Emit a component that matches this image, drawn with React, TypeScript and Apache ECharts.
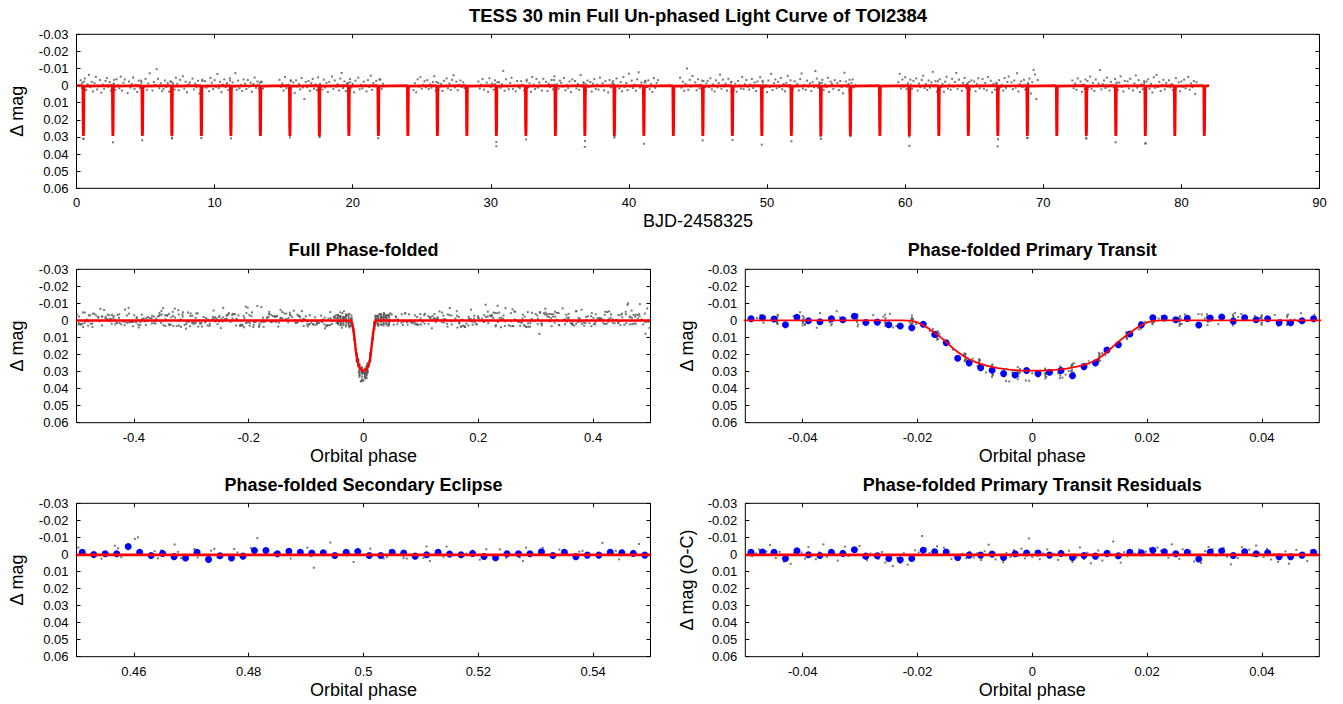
import React, { useEffect, useRef } from "react";
import * as echarts from "echarts";

const FONT = "'Liberation Sans', Arial, Helvetica, sans-serif";

// ---------------- Ephemeris / transit times ----------------
const transitTimes = [
  0.5, 2.636, 4.772, 6.907, 9.043, 11.179, 13.315, 15.451, 17.586, 19.722, 21.858, 23.994, 26.13,
  28.265, 30.401, 32.537, 34.673, 36.809, 38.944, 41.08, 43.216, 45.352, 47.488, 49.623, 51.759,
  53.895, 56.031, 58.167, 60.302, 62.438, 64.574, 66.71, 68.846, 70.981, 73.117, 75.253, 77.389,
  79.525, 81.66,
];
const period = 2.1358;
const modelStart = 0.05;
const modelEnd = 82.0;

// transit model (orbital phase, Δmag in mmag)
const modelPhase = [
  -0.5, -0.0225, -0.021, -0.02, -0.019, -0.018, -0.017, -0.016, -0.015, -0.014, -0.013, -0.012,
  -0.011, -0.01, -0.008, -0.006, -0.004, -0.002, 0, 0.002, 0.004, 0.006, 0.008, 0.01, 0.011, 0.012,
  0.013, 0.014, 0.015, 0.016, 0.017, 0.018, 0.019, 0.02, 0.021, 0.0225, 0.5,
];
const modelMag = [
  0, 0, 0.3, 1.2, 2.8, 4.8, 7.2, 9.8, 12.5, 15.8, 18.5, 20.8, 22.8, 24.3, 26.5, 28.0, 28.9, 29.4,
  29.5, 29.4, 29.0, 28.3, 27.0, 25.0, 23.5, 21.2, 18.5, 15.5, 12.5, 9.8, 7.2, 4.8, 2.8, 1.2, 0.3, 0, 0,
];
const secondaryModelPhase = [0.45, 0.55];
const secondaryModelMag = [0.3, 0.3];
const residualModelPhase = [-0.05, 0.05];
const residualModelMag = [0.3, 0.3];

// ---------------- TESS 30-min light curve segments (Δmag, mmag) ----------------
const cadence = 0.1; // days between plotted points
const segmentStarts = [0.3, 14.7, 24.4, 29.1, 43.7, 59.5, 72.1];

const seg1Mag = [
  -3.1, 1.4, 31.0, -4.2, 2.6, -0.8, -6.3, 0.9, -2.2, 3.4,
  -1.5, -5.1, 2.2, 0.4, -3.3, 4.1, -0.6, 1.8, -2.7, -4.4,
  0.7, -2.0, 3.0, 7.2, -1.1, 2.5, -3.8, -0.3, 1.6, -5.2,
  2.9, -1.7, -3.6, 0.2, 4.4, -2.4, 1.1, -0.9, -4.8, 2.0,
  -0.4, 3.7, -2.9, 1.3, -1.8, 18.3, 0.6, -3.9, 2.4, -1.2,
  -7.2, 0.3, 2.8, -2.1, -0.5, -9.6, -4.0, 1.5, -1.4, 3.2,
  1.9, -3.0, 0.8, -1.6, 3.5, -2.5, 30.4, -0.2, 2.3, -4.6,
  -1.0, 2.7, -3.4, 0.5, -5.5, 1.7, -2.3, 3.9, -0.7, -1.9,
  0.1, -4.1, 2.2, -1.3, 1.0, -2.8, 4.6, 2.1, -3.5, 0.4,
  -2.6, 1.2, -0.1, 3.3, -4.5, -1.7, 2.0, -3.2, 0.7, -6.8,
  1.4, -2.2, 3.8, -0.6, -3.7, 0.9, -1.5, 2.6, -4.3, 24.0,
  -1.9, 0.3, -7.3, 2.4, -2.9, 1.6, -0.4, 3.1, -3.6, -1.1,
  2.0, -3.3, 0.6, -1.8, 3.6, -0.9, -4.7, 1.3, -2.4, 0.2,
  28.9, -2.0, 1.7,
];
const seg2Mag = [
  -3.4, 0.8, -1.2, 2.9, -5.0, 1.5, -0.3, 3.3, -2.6, 0.2,
  -1.8, 4.2, -3.1, 0.5, -0.9, 2.2, -4.4, 1.0, 7.8, -2.1,
  0.9, -2.7, 3.0, -1.4, -3.9, 1.8, -0.6, 2.5, -4.8, 29.6,
  -0.2, 2.3, -3.5, 1.1, -1.6, 3.7, -2.2, 0.4, -5.3, 1.9,
  -3.0, 0.6, -0.8, 2.8, -4.1, -7.4, 1.4, -2.5, 3.2, -1.3,
  22.5, -3.8, 1.2, -1.0, 3.9, -2.9, 0.3, -4.6, 2.1, -0.5,
  1.6, -2.3, -0.1, 3.4, -3.2, 0.8, -5.8, 2.4, -1.5, 0.5,
  -2.8, 1.3, 0.8, -3.6, 2.0, -1.1,
];
const seg3Mag = [
  2.6, -1.4, 3.9, -3.7, 0.6, -4.9, 1.8, -0.5, -2.6, 0.9,
  -3.2, 2.0, -0.7, 1.2, -2.1, -5.5, 2.9, 17.2, -1.6, 0.4,
  -0.9, 3.1, -2.8, 0.1, -4.2, 1.6, -1.2, 2.5, -3.4, -6.1,
  1.0, -2.3, 2.7, -0.4, -3.0, 0.8, -1.9, 1.5,
];
const seg4Mag = [
  -2.4, 1.7, -0.6, -3.9, 2.3, 0.2, -1.7, 3.6, -4.3, 0.9,
  -1.2, 2.4, -3.1, 35.4, 0.5, -2.0, 1.3, -0.8, -8.6, 3.0,
  -3.7, 0.4, 2.1, -1.5, -4.6, 1.9, -0.2, 3.3, -2.7, 0.7,
  1.5, -2.6, -0.4, 2.8, 5.1, -3.5, 0.9, -1.3, 3.6, -5.1,
  -0.6, 2.0, -3.9, 1.1, -1.8, -0.1, 2.9, -4.0, 0.3, -2.2,
  3.2, -1.0, 0.8, -3.3, 2.2, -5.4, 20.4, -0.7, 1.9, -2.9,
  -1.6, 0.5, -4.5, 2.7, -0.3, 1.4, -2.4, 3.8, -3.6, 0.1,
  -2.7, 1.6, -0.9, 2.5, -6.2, 0.6, -1.9, 35.8, 3.1, -3.0,
  0.9, -2.1, 3.5, -1.1, -3.8, 1.9, -0.5, 2.3, -4.7, 0.4,
  -1.4, 2.8, -2.6, 0.2, 4.0, -3.3, 1.0, -1.7, -0.8, 2.1,
  -4.2, -0.3, 1.7, -2.0, 3.3, -5.0, 0.7, -1.5, 2.6, -7.0,
  0.5, -2.9, 1.4, -0.6, 3.0, -3.7, -7.8, 1.1, -1.8, 4.3,
  26.9, -2.4, 0.8, -3.1, 2.1, -0.9, 3.7, -4.4, 1.3, -1.6,
  -3.2,
];
const seg5Mag = [
  -4.6, 1.2, -2.3, 3.0, -1.0, -10.0, 2.4, -3.4, 0.6, -5.6,
  0.3, -1.9, 2.7, -3.8, 1.5, -0.5, 4.1, -2.6, 0.8, -1.3,
  -2.8, 0.9, -4.3, 2.2, -0.7, 3.4, -3.1, 1.0, -1.6, -6.4,
  1.8, -3.5, 0.4, -1.2, 2.9, -4.0, 0.1, -2.1, 31.8, 2.5,
  -1.1, 3.6, -2.7, -0.2, 1.7, -5.1, 2.0, -0.8, -3.3, 0.6,
  2.3, -0.6, -3.9, 1.4, -1.8, 3.1, -2.4, 0.2, -4.9, 24.1,
  -2.0, 1.1, -0.3, 3.8, -3.0, 0.7, -6.9, 2.6, -1.4, -3.6,
  1.6, -2.2, 0.9, -4.4, 2.1, -0.9, 3.3, -1.7, -5.7, 0.5,
  -3.1, 3.4, 1.3, -2.5, 0.0, -1.0, 2.8, -3.8, -7.1, 1.6,
  -0.4, 2.4, -2.9, 0.6, -1.3, 3.2, -2.0, 0.9, -8.5, -4.1,
  1.2, -1.9, 31.2, -3.4, 2.5, -0.6, 0.8, -4.6, 3.7, -2.3,
  -1.0, 1.9, -3.2, 0.3, -1.6, 2.6, -2.7, 0.9, 4.5, -7.5,
  -2.4, 0.6, -1.1, 13.6, 2.2, -3.6, 1.0, -0.4,
];
const seg6Mag = [
  -2.0, -6.9, 1.6, -3.6, 0.7, -4.9, 2.1, -1.4, 35.2, -0.6,
  1.9, -2.8, 0.2, -4.2, 2.9, -1.2, 0.9, -3.3, -5.8, 1.4,
  -0.9, 2.5, -3.0, 1.2, -1.9, -8.1, 0.4, -2.6, 3.5, 6.1,
  -3.7, 0.8, -1.0, 3.6, -2.3, -5.2, 1.7, -0.5, 2.4, -4.0,
  0.6, -2.1, -7.4, 1.9, -3.5, 0.3, 3.0, -1.6, -4.5, 1.1,
  -1.3, 19.2, 2.2, -3.1, 0.5, -2.4, 3.3, -0.8, -4.3, 1.5,
  -0.2, -3.8, 1.8, -1.5, 2.7, -5.0, 0.1, -2.9, 3.9, -1.1,
  2.4, -1.7, 35.5, -3.2, 0.9, -0.4, 2.9, -4.4, 1.3, -2.1,
  -5.3, 0.4, -1.9, 2.0, -3.0, 1.2, -7.2, 3.4, -0.7, -2.5,
  0.8, -3.4, 2.3, 1.3, -1.2, -4.1, 4.6, -2.0, -9.2, -6.5,
  7.9, -3.3,
];
const seg7Mag = [
  -3.0, 1.5, -1.1, 2.4, -4.2, 0.2, -2.4, 3.6, -0.6, 2.0,
  30.5, -2.7, 0.9, -5.3, 1.8, -1.5, 3.1, -3.6, 0.4, -1.2,
  -9.1, 2.2, -0.8, -3.0, 1.4, -4.7, 0.6, 2.9, -2.2, -0.3,
  1.0, -3.9, -1.1, 2.6, -1.8, -5.4, 0.7, 3.4, -2.8, -0.1,
  -2.5, 1.6, -4.0, 0.3, 2.8, -1.3, -6.0, 1.2, -3.2, 3.8,
  -0.7, 2.1, -2.6, 33.6, 0.5, -3.7, 1.9, -1.0, 4.0, -4.9,
  1.3, -6.3, 0.8, -2.2, 3.1, -0.4, -3.4, 2.2, -1.5, 0.6,
  -3.1, 1.0, -0.9, 2.7, 23.0, -4.4, 0.2, -1.9, 3.3, -2.4,
  0.7, -3.5, 1.6, -0.2, -5.1, 2.4, -1.3, 0.9, -2.7, 4.8,
  -2.0,
];
const segmentMags = [seg1Mag, seg2Mag, seg3Mag, seg4Mag, seg5Mag, seg6Mag, seg7Mag];

// extra observations around each transit: [transit number, offsets from mid-transit (d), Δmag (mmag)]
const offA = [-0.085, -0.035, -0.005, 0.015, 0.045, 0.075];
const offB = [-0.065, -0.025, 0.005, 0.025, 0.055, 0.095];
const offC = [-0.095, -0.045, -0.015, 0.035, 0.065];
const offD = [-0.075, -0.055, -0.02, 0.01, 0.04, 0.085];
const inTransitObs: any[] = [
  [0, offA, [-1.6, 10.9, 31.2, 26.1, -2.3, 1.8]],
  [1, offB, [2.4, 19.8, 33.1, 23.6, -0.9, -3.4]],
  [2, offC, [-2.9, 1.5, 31.9, 7.2, 0.8]],
  [3, offD, [1.1, -2.2, 26.7, 30.9, 5.3, -1.4]],
  [4, offA, [0.4, 7.1, 30.6, 28.9, 2.2, -2.7]],
  [5, offB, [-3.0, 23.5, 30.8, 19.7, 1.9, 0.6]],
  [6, offC, [1.7, -1.6, 28.8, 11.0, -2.4]],
  [7, offD, [-0.5, 2.6, 23.1, 30.2, 1.5, -3.1]],
  [8, offA, [2.9, 9.4, 27.4, 30.1, -1.0, 0.3]],
  [9, offB, [-1.4, 19.3, 28.2, 24.0, 3.2, -1.9]],
  [10, offC, [0.2, 2.8, 30.7, 6.9, -3.6]],
  [12, offD, [-2.2, 0.9, 27.0, 26.9, 1.8, 2.5]],
  [14, offA, [-0.8, 6.3, 32.9, 25.8, 1.1, -2.0]],
  [15, offB, [3.5, 22.8, 31.5, 20.4, -2.6, 1.4]],
  [16, offC, [-3.3, -0.6, 25.9, 10.4, 2.7]],
  [17, offD, [1.9, -1.3, 23.6, 32.4, 4.9, -0.7]],
  [18, offA, [-2.6, 11.3, 30.4, 29.6, -0.2, 3.0]],
  [19, offB, [0.9, 20.1, 34.0, 22.7, -1.7, -2.8]],
  [21, offC, [2.1, -2.9, 32.0, 8.1, 0.5]],
  [22, offD, [-1.9, 3.4, 26.4, 28.2, 2.0, 1.2]],
  [23, offA, [1.5, 8.0, 34.5, 27.1, -2.8, -0.4]],
  [24, offB, [-0.3, 23.9, 32.5, 19.0, 0.7, 2.6]],
  [25, offC, [-1.2, 1.9, 29.6, 9.7, -1.5]],
  [26, offD, [2.8, -3.4, 24.1, 29.5, 1.0, -1.6]],
  [28, offA, [0.6, 10.2, 29.8, 26.6, 1.7, -3.5]],
  [29, offB, [-2.5, 21.0, 28.9, 23.1, 2.4, 0.3]],
  [30, offC, [1.3, -0.8, 26.2, 7.6, -2.2]],
  [31, offD, [-1.0, 1.6, 25.7, 31.3, 2.9, 1.9]],
  [32, offA, [2.0, 7.7, 30.5, 30.6, -1.3, -0.9]],
  [34, offB, [-3.6, 19.9, 31.0, 21.2, 0.2, 2.3]],
  [35, offC, [0.7, 3.1, 33.1, 9.9, -1.8]],
  [36, offD, [-1.5, 0.1, 22.8, 33.9, 4.2, -2.4]],
  [37, offA, [2.6, 9.0, 28.4, 25.0, 0.9, 1.7]],
];

// ---------------- Binned points (blue) ----------------
const primaryBinPhase = [
  -0.049, -0.047, -0.045, -0.043, -0.041, -0.039, -0.037, -0.035, -0.033, -0.031,
  -0.029, -0.027, -0.025, -0.023, -0.021, -0.019, -0.017, -0.015, -0.013, -0.011,
  -0.009, -0.007, -0.005, -0.003, -0.001, 0.001, 0.003, 0.005, 0.007, 0.009,
  0.011, 0.013, 0.015, 0.017, 0.019, 0.021, 0.023, 0.025, 0.027, 0.029,
  0.031, 0.033, 0.035, 0.037, 0.039, 0.041, 0.043, 0.045, 0.047, 0.049,
];
const primaryBinMag = [
  -1.0, -1.6, -0.8, 2.5, -1.8, 0.2, 0.8, -1.0, -0.4, -2.5,
  1.2, 1.0, 2.5, 3.3, 4.3, 2.2, 8.2, 13.1, 22.2, 24.9,
  27.8, 29.2, 31.2, 32.0, 29.4, 31.2, 30.4, 29.4, 32.5, 27.1,
  24.9, 17.3, 14.3, 8.0, 2.5, -1.6, -1.4, -0.4, -1.2, 2.7,
  -1.4, -2.0, 0.4, -1.6, -0.4, -1.0, 1.4, 1.4, 0.2, -1.0,
];
const residualBinMag = [
  -1.2, -1.4, -1.2, 2.4, -2.2, 0.2, 0.6, -1.2, -0.6, -2.7,
  1.0, 0.8, 2.4, 3.1, 2.4, -2.4, -1.6, -1.4, 1.8, 0.4,
  0.4, -0.2, 1.8, -0.4, -0.8, -0.8, 0.4, -0.6, 1.8, 0.6,
  1.0, -0.6, 0.8, -1.2, -1.0, -2.4, -1.6, -0.4, -1.2, 2.7,
  -1.4, -2.0, 0.6, -1.6, -0.4, -1.0, 1.4, 1.4, 0.4, -1.2,
];
const secondaryBinPhase = [
  0.451, 0.453, 0.455, 0.457, 0.459, 0.461, 0.463, 0.465, 0.467, 0.469,
  0.471, 0.473, 0.475, 0.477, 0.479, 0.481, 0.483, 0.485, 0.487, 0.489,
  0.491, 0.493, 0.495, 0.497, 0.499, 0.501, 0.503, 0.505, 0.507, 0.509,
  0.511, 0.513, 0.515, 0.517, 0.519, 0.521, 0.523, 0.525, 0.527, 0.529,
  0.531, 0.533, 0.535, 0.537, 0.539, 0.541, 0.543, 0.545, 0.547, 0.549,
];
const secondaryBinMag = [
  -1.2, 0.0, -0.4, -0.4, -4.6, -1.3, 0.6, -0.6, 1.3, 2.1,
  -1.3, 2.9, 0.8, 2.1, 1.0, -2.3, -2.3, -0.4, -1.9, -1.3,
  -0.8, -1.0, 0.6, -1.3, -1.7, 0.6, 0.6, -1.2, -0.8, 1.0,
  0.2, -1.2, -0.2, 0.2, -0.6, 1.2, 1.9, -0.4, -0.4, -0.4,
  -1.5, 0.6, -1.2, 1.3, 0.4, 0.4, -1.2, -1.0, -0.6, 0.4,
];

// residuals of the primary transit window: [phase, O-C (mmag)]
const residualObs = [
  [-0.0493, -2.1], [-0.0488, 1.0], [-0.0481, -0.6], [-0.0476, -2.9], [-0.047, 0.4], [-0.0463, -1.7],
  [-0.0457, -5.6], [-0.0452, -0.2], [-0.0447, 2.1], [-0.044, -1.5], [-0.0433, 4.2], [-0.0428, 1.9],
  [-0.0421, 5.5], [-0.0415, -0.9], [-0.0409, -3.2], [-0.0402, -1.1], [-0.0396, 2.4], [-0.039, -4.3],
  [-0.0384, 0.7], [-0.0377, 2.8], [-0.0371, -1.2], [-0.0364, -5.9], [-0.0358, 1.4], [-0.0352, -2.0],
  [-0.0345, -0.3], [-0.0339, 3.6], [-0.0332, -1.9], [-0.0326, -4.6], [-0.032, 0.9], [-0.0313, -3.0],
  [-0.0307, -1.6], [-0.0301, -5.0], [-0.0294, 1.8], [-0.0288, 3.4], [-0.0282, -0.5], [-0.0275, 0.2],
  [-0.0268, 2.6], [-0.0262, -1.4], [-0.0256, 4.7], [-0.0249, 1.1], [-0.0243, 6.8], [-0.0236, 2.0],
  [-0.023, 4.9], [-0.0224, -0.7], [-0.0217, 6.0], [-0.0211, 1.5], [-0.0204, -2.4], [-0.0198, -1.1],
  [-0.0192, -10.8], [-0.0186, -3.6], [-0.0179, -0.9], [-0.0173, -2.7], [-0.0166, -4.8], [-0.016, 0.3],
  [-0.0154, -3.9], [-0.0147, -1.2], [-0.0141, 2.6], [-0.0134, 1.0], [-0.0128, 3.1], [-0.0122, -0.4],
  [-0.0115, 2.2], [-0.0109, -1.5], [-0.0102, 1.8], [-0.0096, -0.6], [-0.0089, 3.3], [-0.0083, -1.9],
  [-0.0076, -5.7], [-0.007, 1.2], [-0.0064, 2.9], [-0.0057, 0.4], [-0.0051, 4.6], [-0.0045, -0.8],
  [-0.0038, 1.5], [-0.0032, -2.5], [-0.0026, 0.9], [-0.0019, -3.4], [-0.0013, 2.3], [-0.0006, -9.4],
  [0.0, 1.6], [0.0006, -1.8], [0.0013, 2.8], [0.0019, -0.6], [0.0026, -2.9], [0.0032, 1.3],
  [0.0038, -0.4], [0.0045, 3.2], [0.0051, -1.5], [0.0058, 0.5], [0.0064, -2.2], [0.007, 4.4],
  [0.0077, 1.6], [0.0083, -4.1], [0.009, 2.7], [0.0096, -1.0], [0.0102, 5.2], [0.0109, 0.8],
  [0.0115, -2.3], [0.0122, 3.6], [0.0128, -0.9], [0.0134, -1.7], [0.0141, -7.6], [0.0147, 2.2],
  [0.0154, 4.8], [0.016, -1.3], [0.0166, 1.0], [0.0173, -2.0], [0.0179, -0.4], [0.0186, -2.9],
  [0.0192, 0.6], [0.0198, -1.6], [0.0205, -3.5], [0.0211, -1.0], [0.0218, -4.0], [0.0224, -2.2],
  [0.023, -0.3], [0.0237, 1.9], [0.0243, -5.9], [0.025, -1.2], [0.0256, 2.6], [0.0262, -3.0],
  [0.0269, 0.4], [0.0275, -1.7], [0.0282, 4.1], [0.0288, 2.8], [0.0294, 5.0], [0.0301, -1.9],
  [0.0307, -4.4], [0.0314, -3.1], [0.032, 0.7], [0.0326, -2.5], [0.0333, -3.8], [0.0339, 1.4],
  [0.0346, 5.8], [0.0352, -0.6], [0.0358, 2.2], [0.0365, -4.2], [0.0371, -1.5], [0.0378, -2.8],
  [0.0384, 0.9], [0.039, -5.2], [0.0397, -0.4], [0.0403, 1.6], [0.0409, -3.3], [0.0416, 2.9],
  [0.0422, -0.2], [0.0428, 4.3], [0.0435, 1.1], [0.0441, -1.8], [0.0447, 5.4], [0.0454, 0.3],
  [0.046, -2.6], [0.0467, 1.7], [0.0473, -1.0], [0.0479, 3.9], [0.0486, -2.4], [0.0492, 0.5],
];

// ---------------- Axis ticks ----------------
const topXTicks = [0, 10, 20, 30, 40, 50, 60, 70, 80, 90];
const fullPhaseTicks = [-0.4, -0.2, 0, 0.2, 0.4];
const primaryPhaseTicks = [-0.04, -0.02, 0, 0.02, 0.04];
const secondaryPhaseTicks = [0.46, 0.48, 0.5, 0.52, 0.54];
const magTicks = [-0.03, -0.02, -0.01, 0, 0.01, 0.02, 0.03, 0.04, 0.05, 0.06];

// ---------------- Derived tables ----------------
const toMag = (mm: number) => mm / 1000;

function buildObservations(): number[][] {
  const out: number[][] = [];
  segmentMags.forEach((mags, s) => {
    mags.forEach((mm, i) => out.push([segmentStarts[s] + i * cadence, toMag(mm)]));
  });
  inTransitObs.forEach(([n, offs, mags]) => {
    (offs as number[]).forEach((o, i) => out.push([transitTimes[n] + o, toMag(mags[i])]));
  });
  return out.sort((a, b) => a[0] - b[0]);
}

const T0 = transitTimes[0];
const phaseOf = (t: number) => {
  const c = (t - T0) / period;
  return c - Math.round(c);
};

function buildOption() {
  const obs = buildObservations();
  const folded = obs.map(([t, m]) => [phaseOf(t), m]);
  const primaryWindow = folded.filter(([p]) => Math.abs(p) <= 0.0505);
  const secondaryWindow = folded
    .filter(([p]) => Math.abs(p) >= 0.4495)
    .map(([p, m]) => [p < 0 ? p + 1 : p, m]);

  const modelLine = modelPhase.map((p, i) => [p, toMag(modelMag[i])]);
  const dip = modelLine.filter(([p]) => Math.abs(p) < 0.5);
  const topModel: number[][] = [[modelStart, 0]];
  transitTimes.forEach((T) => dip.forEach(([p, m]) => topModel.push([T + p * period, m])));
  topModel.push([modelEnd, 0]);

  const fmt = (v: number) => {
    const r = Math.round(v * 10000) / 10000;
    return r === 0 ? "0" : String(r);
  };

  const tickStyle = { show: true, inside: true, length: 4, lineStyle: { color: "#000", width: 1 } };
  const xPair = (g: number, min: number, max: number, ticks: number[]) => {
    const common = {
      type: "value", gridIndex: g, min, max,
      splitLine: { show: false },
      axisLine: { show: false, onZero: false },
      axisTick: { ...tickStyle, customValues: ticks },
    };
    return [
      { ...common, position: "bottom",
        axisLabel: { show: true, customValues: ticks, margin: 8, fontSize: 13, color: "#000", fontFamily: FONT, formatter: fmt } },
      { ...common, position: "top", axisLabel: { show: false } },
    ];
  };
  const yPair = (g: number) => {
    const common = {
      type: "value", gridIndex: g, min: -0.03, max: 0.06, inverse: true,
      splitLine: { show: false },
      axisLine: { show: false, onZero: false },
      axisTick: { ...tickStyle, customValues: magTicks },
    };
    return [
      { ...common, position: "left",
        axisLabel: { show: true, customValues: magTicks, margin: 8, fontSize: 13, color: "#000", fontFamily: FONT, formatter: fmt } },
      { ...common, position: "right", axisLabel: { show: false } },
    ];
  };

  const gridBox = (left: number, top: number, width: number, height: number) => ({
    left, top, width, height, show: true, borderColor: "#000", borderWidth: 1,
    backgroundColor: "transparent", containLabel: false, outerBoundsMode: "none",
  });

  const grids = [
    gridBox(76.5, 34.3, 1243, 154),
    gridBox(76.5, 269.3, 574, 153.4),
    gridBox(745.3, 269.3, 574, 153.4),
    gridBox(76.5, 503.3, 574, 153.4),
    gridBox(745.3, 503.3, 574, 153.4),
  ];

  const xAxis = [
    ...xPair(0, 0, 90, topXTicks),
    ...xPair(1, -0.5, 0.5, fullPhaseTicks),
    ...xPair(2, -0.05, 0.05, primaryPhaseTicks),
    ...xPair(3, 0.45, 0.55, secondaryPhaseTicks),
    ...xPair(4, -0.05, 0.05, primaryPhaseTicks),
  ];
  const yAxis = [...yPair(0), ...yPair(1), ...yPair(2), ...yPair(3), ...yPair(4)];

  const grey = (g: number, data: number[][]) => ({
    type: "scatter", xAxisIndex: 2 * g, yAxisIndex: 2 * g, data, symbol: "rect", symbolSize: 2,
    itemStyle: { color: "#555555" }, silent: true, clip: true, large: false,
  });
  const red = (g: number, data: number[][], width: number) => ({
    type: "line", xAxisIndex: 2 * g, yAxisIndex: 2 * g, data, showSymbol: false, symbol: "none",
    lineStyle: { color: "#ff0000", width }, silent: true, clip: true, smooth: false,
  });
  const blue = (g: number, data: number[][]) => ({
    type: "scatter", xAxisIndex: 2 * g, yAxisIndex: 2 * g, data, symbol: "circle", symbolSize: 7,
    itemStyle: { color: "#0000ff", opacity: 1 }, silent: true, clip: true,
  });

  const series = [
    grey(0, obs),
    red(0, topModel, 2.6),
    grey(1, folded),
    red(1, modelLine, 2.4),
    grey(2, primaryWindow),
    red(2, modelLine, 1.8),
    blue(2, primaryBinPhase.map((p, i) => [p, toMag(primaryBinMag[i])])),
    grey(3, secondaryWindow),
    red(3, secondaryModelPhase.map((p, i) => [p, toMag(secondaryModelMag[i])]), 2.8),
    blue(3, secondaryBinPhase.map((p, i) => [p, toMag(secondaryBinMag[i])])),
    grey(4, residualObs.map(([p, m]) => [p, toMag(m)])),
    red(4, residualModelPhase.map((p, i) => [p, toMag(residualModelMag[i])]), 2.8),
    blue(4, primaryBinPhase.map((p, i) => [p, toMag(residualBinMag[i])])),
  ];

  const txt = (text: string, x: number, y: number, font: string, rotate = false) => ({
    type: "text", x, y, rotation: rotate ? Math.PI / 2 : 0, silent: true,
    style: {
      text, font, fill: "#000",
      textAlign: "center", textVerticalAlign: "middle", align: "center", verticalAlign: "middle",
    },
  });
  const titleFont = `bold 18px ${FONT}`;
  const nameFont = `18px ${FONT}`;
  const graphic = [
    txt("TESS 30 min Full Un-phased Light Curve of TOI2384", 698, 15.5, `bold 18.5px ${FONT}`),
    txt("Full Phase-folded", 363.5, 250, titleFont),
    txt("Phase-folded Primary Transit", 1032.3, 250, titleFont),
    txt("Phase-folded Secondary Eclipse", 363.5, 485, titleFont),
    txt("Phase-folded Primary Transit Residuals", 1032.3, 485, titleFont),
    txt("BJD-2458325", 698, 221, nameFont),
    txt("Orbital phase", 363.5, 455.5, nameFont),
    txt("Orbital phase", 1032.3, 455.5, nameFont),
    txt("Orbital phase", 363.5, 690, nameFont),
    txt("Orbital phase", 1032.3, 690, nameFont),
    txt("Δ mag", 17, 111.3, nameFont, true),
    txt("Δ mag", 17, 346, nameFont, true),
    txt("Δ mag", 687, 346, nameFont, true),
    txt("Δ mag", 17, 580, nameFont, true),
    txt("Δ mag (O-C)", 687, 580, nameFont, true),
  ];

  return {
    animation: false,
    backgroundColor: "#ffffff",
    grid: grids,
    xAxis,
    yAxis,
    series,
    graphic: { elements: graphic },
  };
}

export default function App() {
  const ref = useRef<HTMLDivElement>(null);
  useEffect(() => {
    if (!ref.current) return;
    const chart = echarts.init(ref.current, null, { renderer: "svg", width: 1343, height: 704 });
    chart.setOption(buildOption() as any);
    return () => chart.dispose();
  }, []);
  return (
    <div
      ref={ref}
      style={{ position: "fixed", left: 0, top: 0, width: 1343, height: 704, background: "#fff" }}
    />
  );
}
